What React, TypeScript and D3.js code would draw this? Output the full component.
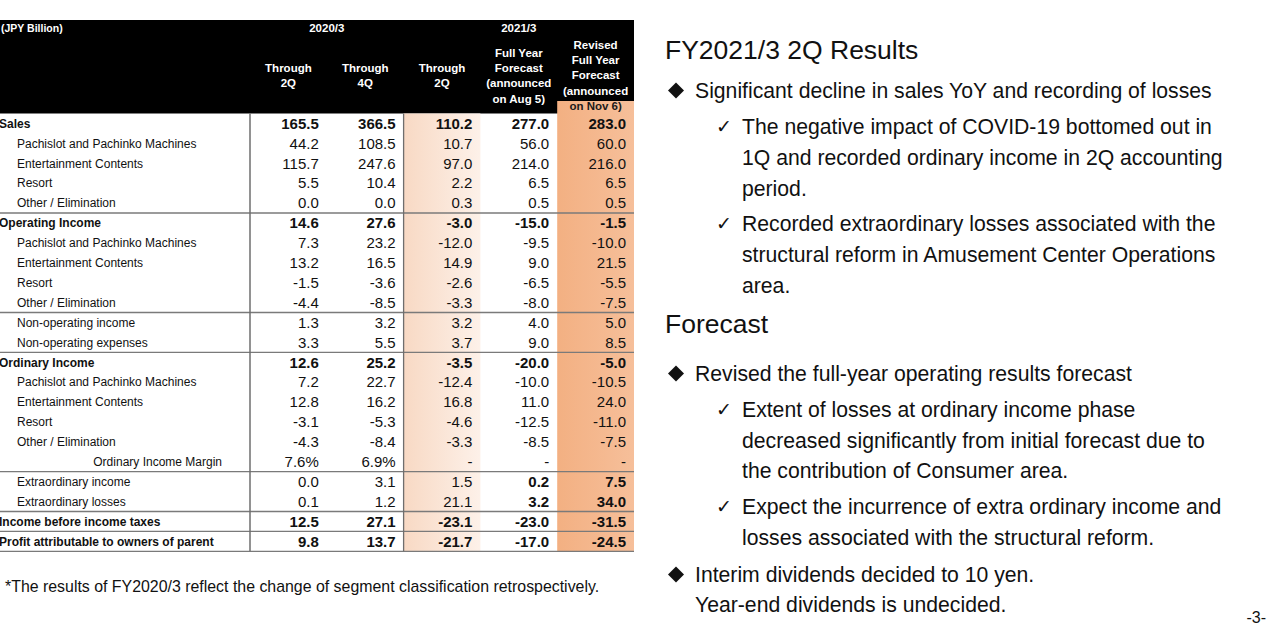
import React from "react";
import * as d3 from "d3";

const rowLabels = [
  "Sales",
  "Pachislot and Pachinko Machines",
  "Entertainment Contents",
  "Resort",
  "Other / Elimination",
  "Operating Income",
  "Pachislot and Pachinko Machines",
  "Entertainment Contents",
  "Resort",
  "Other / Elimination",
  "Non-operating income",
  "Non-operating expenses",
  "Ordinary Income",
  "Pachislot and Pachinko Machines",
  "Entertainment Contents",
  "Resort",
  "Other / Elimination",
  "Ordinary Income Margin",
  "Extraordinary income",
  "Extraordinary losses",
  "Income before income taxes",
  "Profit attributable to owners of parent",
];
const rowKinds = [
  "main", "sub", "sub", "sub", "sub",
  "main", "sub", "sub", "sub", "sub", "sub", "sub",
  "main", "sub", "sub", "sub", "sub", "margin",
  "sub", "sub", "main", "main",
];

const fy2020Through2Q = [165.5, 44.2, 115.7, 5.5, 0.0, 14.6, 7.3, 13.2, -1.5, -4.4, 1.3, 3.3, 12.6, 7.2, 12.8, -3.1, -4.3, 7.6, 0.0, 0.1, 12.5, 9.8];
const fy2020Through4Q = [366.5, 108.5, 247.6, 10.4, 0.0, 27.6, 23.2, 16.5, -3.6, -8.5, 3.2, 5.5, 25.2, 22.7, 16.2, -5.3, -8.4, 6.9, 3.1, 1.2, 27.1, 13.7];
const fy2021Through2Q = [110.2, 10.7, 97.0, 2.2, 0.3, -3.0, -12.0, 14.9, -2.6, -3.3, 3.2, 3.7, -3.5, -12.4, 16.8, -4.6, -3.3, null, 1.5, 21.1, -23.1, -21.7];
const fy2021Forecast = [277.0, 56.0, 214.0, 6.5, 0.5, -15.0, -9.5, 9.0, -6.5, -8.0, 4.0, 9.0, -20.0, -10.0, 11.0, -12.5, -8.5, null, 0.2, 3.2, -23.0, -17.0];
const fy2021Revised = [283.0, 60.0, 216.0, 6.5, 0.5, -1.5, -10.0, 21.5, -5.5, -7.5, 5.0, 8.5, -5.0, -10.5, 24.0, -11.0, -7.5, null, 7.5, 34.0, -31.5, -24.5];

const columns = [fy2020Through2Q, fy2020Through4Q, fy2021Through2Q, fy2021Forecast, fy2021Revised];
const columnHeaders = [
  ["Through", "2Q"],
  ["Through", "4Q"],
  ["Through", "2Q"],
  ["Full Year", "Forecast", "(announced", "on Aug 5)"],
  ["Revised", "Full Year", "Forecast", "(announced", "on Nov 6)"],
];
const yearGroups = ["2020/3", "2021/3"];
const unitLabel = "(JPY Billion)";
const boldCells = [[18, 3], [19, 3], [18, 4], [19, 4]];
const separatorRows = [5, 10, 12, 18, 20, 21, 22];

const footnote = "*The results of FY2020/3 reflect the change of segment classification retrospectively.";

const rightLines = [
  { kind: "h", text: "FY2021/3 2Q Results", y: 59 },
  { kind: "d", text: "Significant decline in sales YoY and recording of losses", y: 98 },
  { kind: "c", text: "The negative impact of COVID-19 bottomed out in", y: 134 },
  { kind: "t", text: "1Q and recorded ordinary income in 2Q accounting", y: 165 },
  { kind: "t", text: "period.", y: 196 },
  { kind: "c", text: "Recorded extraordinary losses associated with the", y: 231 },
  { kind: "t", text: "structural reform in Amusement Center Operations", y: 262 },
  { kind: "t", text: "area.", y: 293 },
  { kind: "h", text: "Forecast", y: 333 },
  { kind: "d", text: "Revised the full-year operating results forecast", y: 381 },
  { kind: "c", text: "Extent of losses at ordinary income phase", y: 417 },
  { kind: "t", text: "decreased significantly from initial forecast due to", y: 448 },
  { kind: "t", text: "the contribution of Consumer area.", y: 478 },
  { kind: "c", text: "Expect the incurrence of extra ordinary income and", y: 514 },
  { kind: "t", text: "losses associated with the structural reform.", y: 545 },
  { kind: "d", text: "Interim dividends decided to 10 yen.", y: 582 },
  { kind: "b", text: "Year-end dividends is undecided.", y: 612 },
];
const pageNumber = "-3-";

const FONT = "'Liberation Sans', Arial, sans-serif";

export default function App() {
  const W = 1269, H = 631;
  const tableTop = 113.5;
  const rowH = 19.9;
  const y = d3.scaleBand<number>().domain(d3.range(rowLabels.length)).range([tableTop, tableTop + rowH * rowLabels.length]);
  const x = d3.scaleBand<number>().domain(d3.range(columns.length)).range([250, 634]);
  const bw = x.bandwidth();
  const bold = (r: number, c: number) =>
    rowKinds[r] === "main" || boldCells.some(([rr, cc]) => rr === r && cc === c);
  const fmt = (v: number | null, r: number) =>
    v === null ? "-" : rowKinds[r] === "margin" ? `${v.toFixed(1)}%` : v.toFixed(1);
  const tableBottom = tableTop + rowH * rowLabels.length;

  return (
    <svg width={W} height={H} style={{ position: "absolute", left: 0, top: 0, background: "#fff" }} fontFamily={FONT}>
      <defs>
        <linearGradient id="peach" x1="0" x2="1" y1="0" y2="0">
          <stop offset="0" stopColor="#f8d9c4" />
          <stop offset="1" stopColor="#fdf1e9" />
        </linearGradient>
        <linearGradient id="orange" x1="0" x2="1" y1="0" y2="0">
          <stop offset="0" stopColor="#f3b082" />
          <stop offset="1" stopColor="#f6bf9a" />
        </linearGradient>
      </defs>
      <rect width={W} height={H} fill="#fff" />
      {/* header */}
      <rect x={-10} y={20} width={644} height={tableTop - 20} fill="#000" />
      <rect x={x(2)} y={tableTop} width={bw} height={tableBottom - tableTop} fill="url(#peach)" />
      <rect x={x(4)} y={101} width={bw} height={tableBottom - 101} fill="url(#orange)" />
      <text x={1} y={32} fill="#fff" fontSize={10.5} fontWeight="bold">{unitLabel}</text>
      <text x={(x(0)! + x(1)! + bw) / 2} y={32} fill="#fff" fontSize={11.5} fontWeight="bold" textAnchor="middle">{yearGroups[0]}</text>
      <text x={x(3)! + bw / 2} y={32} fill="#fff" fontSize={11.5} fontWeight="bold" textAnchor="middle">{yearGroups[1]}</text>
      {columnHeaders.map((lines, c) => {
        const centers =
          lines.length === 2 ? [68, 83] : lines.length === 4 ? [53, 68, 83, 99] : [45, 60, 75, 91, 106];
        return lines.map((t, i) => (
          <text
            key={`h${c}-${i}`}
            x={x(c)! + bw / 2}
            y={centers[i] + 4}
            fill={c === 4 && i === lines.length - 1 ? "#1a1a1a" : "#fff"}
            fontSize={11.5}
            fontWeight="bold"
            textAnchor="middle"
          >
            {t}
          </text>
        ));
      })}
      {/* rows */}
      {rowLabels.map((label, r) => {
        const cy = y(r)! + rowH / 2;
        const kind = rowKinds[r];
        return (
          <g key={`r${r}`}>
            <text
              x={kind === "main" ? -1 : kind === "margin" ? 222 : 17}
              y={cy + 4.3}
              fontSize={12}
              fontWeight={kind === "main" ? "bold" : "normal"}
              textAnchor={kind === "margin" ? "end" : "start"}
              fill="#111"
            >
              {label}
            </text>
            {columns.map((col, c) => (
              <text
                key={`v${r}-${c}`}
                x={x(c)! + bw - 8}
                y={cy + 5.3}
                fontSize={15}
                fontWeight={bold(r, c) ? "bold" : "normal"}
                textAnchor="end"
                fill="#111"
              >
                {fmt(col[r], r)}
              </text>
            ))}
          </g>
        );
      })}
      {separatorRows.map((r) => {
        const yy = r < rowLabels.length ? y(r)! : tableBottom;
        return <line key={`s${r}`} x1={-10} x2={634} y1={yy} y2={yy} stroke="#7a7a7a" strokeWidth={1.3} />;
      })}
      <line x1={250} x2={250} y1={tableTop} y2={tableBottom} stroke="#6e6e6e" strokeWidth={1.5} />
      <line x1={x(2)} x2={x(2)} y1={tableTop} y2={tableBottom} stroke="#6e6e6e" strokeWidth={1.3} />
      <text x={5} y={591.5} fontSize={15.9} fill="#111">{footnote}</text>
      {/* right panel */}
      {rightLines.map((l, i) => {
        if (l.kind === "h")
          return <text key={`l${i}`} x={665} y={l.y} fontSize={26.5} fill="#111">{l.text}</text>;
        const tx = l.kind === "d" || l.kind === "b" ? 695 : 742;
        const cy = l.y - 7.5;
        return (
          <g key={`l${i}`}>
            {l.kind === "d" && (
              <path d={`M676,${cy - 8}L684,${cy}L676,${cy + 8}L668,${cy}Z`} fill="#111" />
            )}
            {l.kind === "c" && (
              <text x={716} y={l.y - 1} fontSize={19} fontFamily="'DejaVu Sans', sans-serif" fill="#111">✓</text>
            )}
            <text x={tx} y={l.y} fontSize={21.2} fill="#111">{l.text}</text>
          </g>
        );
      })}
      <text x={1266} y={623} fontSize={16} textAnchor="end" fill="#111">{pageNumber}</text>
    </svg>
  );
}
